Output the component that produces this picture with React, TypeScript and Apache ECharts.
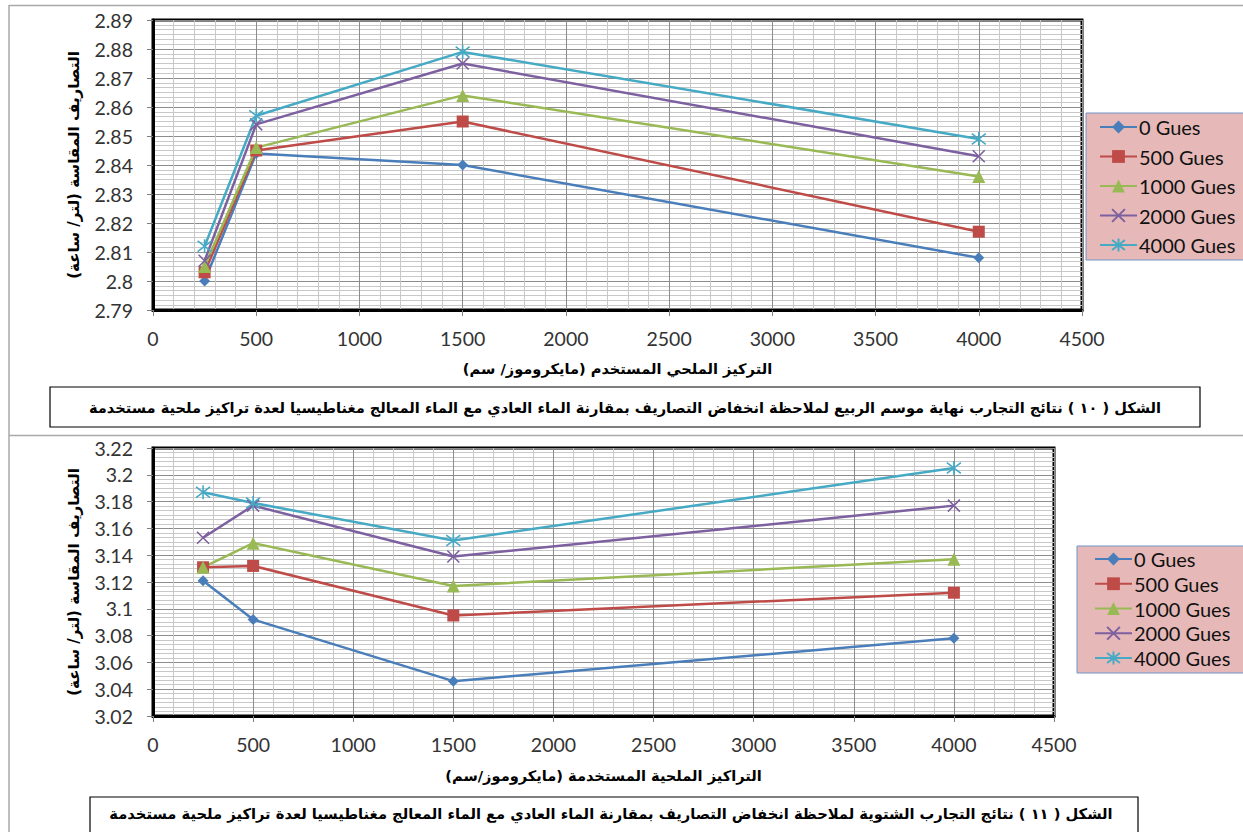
import React, { useEffect, useRef } from 'react';
import * as echarts from 'echarts';

// ---------------- data ----------------
const concentrations = [250, 500, 1500, 4000];
const seriesNames = ['0 Gues', '500 Gues', '1000 Gues', '2000 Gues', '4000 Gues'];

const xTickLabels = [0, 500, 1000, 1500, 2000, 2500, 3000, 3500, 4000, 4500];
const springTickLabels = [2.79, 2.8, 2.81, 2.82, 2.83, 2.84, 2.85, 2.86, 2.87, 2.88, 2.89];
const winterTickLabels = [3.02, 3.04, 3.06, 3.08, 3.1, 3.12, 3.14, 3.16, 3.18, 3.2, 3.22];

// Figure 10 (spring)
const spring0 = [2.8, 2.844, 2.84, 2.808];
const spring500 = [2.803, 2.845, 2.855, 2.817];
const spring1000 = [2.805, 2.846, 2.864, 2.836];
const spring2000 = [2.807, 2.854, 2.875, 2.843];
const spring4000 = [2.812, 2.857, 2.879, 2.849];

// Figure 11 (winter)
const winter0 = [3.121, 3.092, 3.046, 3.078];
const winter500 = [3.131, 3.132, 3.095, 3.112];
const winter1000 = [3.131, 3.149, 3.117, 3.137];
const winter2000 = [3.153, 3.177, 3.139, 3.177];
const winter4000 = [3.187, 3.179, 3.151, 3.205];

const yTitle = 'التصاريف المقاسة (لتر/ ساعة)\u200F';
const xTitleSpring = 'التركيز الملحي المستخدم (مايكروموز/ سم)\u200F';
const xTitleWinter = 'التراكيز الملحية المستخدمة (مايكروموز/سم)\u200F';
const captionSpring =
  'الشكل ( ١٠ ) نتائج التجارب نهاية موسم الربيع لملاحظة انخفاض التصاريف بمقارنة الماء العادي مع الماء المعالج مغناطيسيا لعدة تراكيز ملحية مستخدمة';
const captionWinter =
  'الشكل ( ١١ ) نتائج التجارب الشتوية لملاحظة انخفاض التصاريف بمقارنة الماء العادي مع الماء المعالج مغناطيسيا لعدة تراكيز ملحية مستخدمة';

// ---------------- styles ----------------
const lineColors = ['#4A7EBB', '#BE4B48', '#98B954', '#7D60A0', '#46AAC5'];
const markerSymbols = [
  'diamond',
  'rect',
  'triangle',
  'path://M0,0L10,10M10,0L0,10',
  'path://M0,0L10,10M10,0L0,10M5,-1.5L5,11.5',
];
const markerSizes = [11, 12, 13, 12, 14];
const AR_FONT = 'DejaVu Sans';
const NUM_FONT = 'Lato';

function fitFont(text: string, target: number, weight = 'bold', family = AR_FONT): number {
  const ctx = document.createElement('canvas').getContext('2d');
  if (!ctx) return 14;
  ctx.font = `${weight} 100px "${family}"`;
  const w = ctx.measureText(text).width;
  if (!w) return 14;
  return Math.round((target / w) * 1000) / 10;
}

function buildSeries(values: number[][], xIdx: number) {
  return values.map((vals, i) => ({
    name: seriesNames[i],
    type: 'line',
    xAxisIndex: xIdx,
    yAxisIndex: xIdx,
    data: concentrations.map((x, j) => [x, vals[j]]),
    symbol: markerSymbols[i],
    symbolSize: markerSizes[i],
    showAllSymbol: true,
    lineStyle: { color: lineColors[i], width: 2.5 },
    itemStyle: {
      color: lineColors[i],
      borderColor: lineColors[i],
      borderWidth: i >= 3 ? 1.6 : 0,
    },
    emphasis: { disabled: true },
    z: 3,
  }));
}

export default function App() {
  const ref = useRef<HTMLDivElement>(null);

  useEffect(() => {
    document.body.style.margin = '0';
    if (!ref.current) return;
    const chart = echarts.init(ref.current, undefined, { renderer: 'svg' });

    const yNameSize = fitFont(yTitle, 228);
    const xNameSizeS = fitFont(xTitleSpring, 309);
    const xNameSizeW = fitFont(xTitleWinter, 317);
    const capSizeS = fitFont(captionSpring, 1076);
    const capSizeW = fitFont(captionWinter, 1002);

    const grids = [
      { left: 153, top: 20, width: 929, height: 290 },
      { left: 153, top: 448, width: 901, height: 268 },
    ];

    const xAxis = (idx: number, name: string, size: number, nameCenterY: number) => ({
      type: 'value',
      gridIndex: idx,
      min: xTickLabels[0],
      max: xTickLabels[xTickLabels.length - 1],
      interval: xTickLabels[1] - xTickLabels[0],
      name,
      nameLocation: 'middle',
      nameGap: nameCenterY - size / 2 - (grids[idx].top + grids[idx].height),
      nameTextStyle: { fontFamily: AR_FONT, fontWeight: 'bold', fontSize: size, color: '#000' },
      axisLine: { show: true, onZero: false, lineStyle: { color: '#000', width: 3 } },
      axisTick: { show: true, length: 6, lineStyle: { color: '#7f7f7f', width: 1 } },
      axisLabel: {
        color: '#333',
        fontFamily: NUM_FONT,
        fontSize: 19.5,
        margin: 18,
        formatter: (v: number) => String(v),
      },
      splitLine: { show: true, lineStyle: { color: '#8c8c8c', width: 1 } },
      minorTick: { show: false, splitNumber: 5 },
      minorSplitLine: { show: true, lineStyle: { color: '#c8c8c8', width: 1 } },
    });

    const yAxis = (idx: number, ticks: number[]) => ({
      type: 'value',
      gridIndex: idx,
      min: ticks[0],
      max: ticks[ticks.length - 1],
      interval: Math.round((ticks[1] - ticks[0]) * 1000) / 1000,
      name: yTitle,
      nameLocation: 'middle',
      nameRotate: 90,
      nameGap: 153 - 74 - yNameSize / 2,
      nameTextStyle: { fontFamily: AR_FONT, fontWeight: 'bold', fontSize: yNameSize, color: '#000' },
      axisLine: { show: true, lineStyle: { color: '#000', width: 3 } },
      axisTick: { show: true, length: 6, lineStyle: { color: '#7f7f7f', width: 1 } },
      axisLabel: {
        color: '#333',
        fontFamily: NUM_FONT,
        fontSize: 19.5,
        margin: 20,
        formatter: (v: number) => String(Math.round(v * 1000) / 1000),
      },
      splitLine: { show: true, lineStyle: { color: '#8c8c8c', width: 1 } },
      minorTick: { show: false, splitNumber: 6 },
      minorSplitLine: { show: true, lineStyle: { color: '#c8c8c8', width: 1 } },
    });

    const legendBase = {
      data: seriesNames,
      orient: 'vertical',
      itemWidth: 37,
      itemHeight: 16,
      selectedMode: false,
      backgroundColor: '#E6B9B8',
      borderColor: '#7094C8',
      borderWidth: 1,
      borderRadius: 0,
      textStyle: { fontFamily: NUM_FONT, fontSize: 20, color: '#111', lineHeight: 20, padding: [0, 0, 0, -3] },
    };

    const frame = '#a9a9a9';
    chart.setOption({
      animation: false,
      backgroundColor: '#fff',
      grid: grids.map((g) => ({
        ...g,
        show: true,
        borderColor: '#000',
        borderWidth: 3,
        backgroundColor: '#fff',
        containLabel: false,
      })),
      xAxis: [xAxis(0, xTitleSpring, xNameSizeS, 368), xAxis(1, xTitleWinter, xNameSizeW, 775)],
      yAxis: [yAxis(0, springTickLabels), yAxis(1, winterTickLabels)],
      legend: [
        { ...legendBase, left: 1086, top: 113, itemGap: 9.5, padding: [4, 60, 5, 13] },
        { ...legendBase, left: 1077, top: 546, itemGap: 4.75, padding: [3, 60, 5, 17] },
      ],
      series: [
        ...buildSeries([spring0, spring500, spring1000, spring2000, spring4000], 0),
        ...buildSeries([winter0, winter500, winter1000, winter2000, winter4000], 1),
      ],
      graphic: [
        { type: 'line', shape: { x1: 9, y1: 5.5, x2: 1243, y2: 5.5 }, style: { stroke: frame, lineWidth: 1.5 }, z: -1 },
        { type: 'line', shape: { x1: 9, y1: 5, x2: 9, y2: 832 }, style: { stroke: frame, lineWidth: 1.5 }, z: -1 },
        { type: 'line', shape: { x1: 9, y1: 435.5, x2: 1243, y2: 435.5 }, style: { stroke: frame, lineWidth: 1.5 }, z: -1 },
        {
          type: 'rect',
          shape: { x: 50, y: 387, width: 1150, height: 40 },
          style: { fill: '#fff', stroke: '#000', lineWidth: 1.2 },
          z: 1,
        },
        {
          type: 'text',
          x: 625,
          y: 407,
          style: {
            text: captionSpring,
            fill: '#000',
            fontFamily: AR_FONT,
            fontWeight: 'bold',
            fontSize: capSizeS,
            align: 'center',
            verticalAlign: 'middle',
          },
          z: 2,
        },
        {
          type: 'rect',
          shape: { x: 90, y: 797, width: 1048, height: 60 },
          style: { fill: '#fff', stroke: '#000', lineWidth: 1.2 },
          z: 1,
        },
        {
          type: 'text',
          x: 611,
          y: 813,
          style: {
            text: captionWinter,
            fill: '#000',
            fontFamily: AR_FONT,
            fontWeight: 'bold',
            fontSize: capSizeW,
            align: 'center',
            verticalAlign: 'middle',
          },
          z: 2,
        },
      ],
    });

    return () => chart.dispose();
  }, []);

  return <div ref={ref} style={{ width: 1243, height: 832 }} />;
}
